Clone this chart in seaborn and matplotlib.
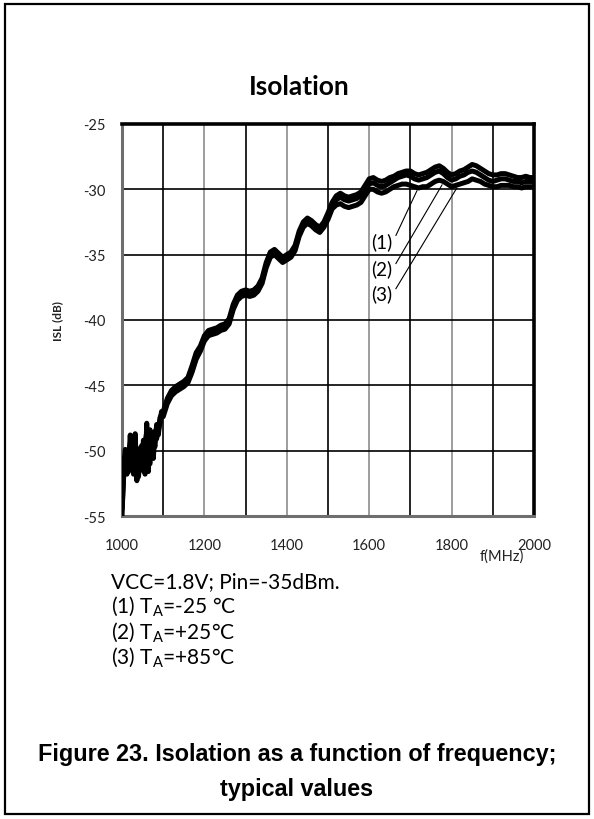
import numpy as np
import pandas as pd
import matplotlib
matplotlib.use('Agg')
import matplotlib.pyplot as plt
import seaborn as sns
from matplotlib.ticker import MultipleLocator
from matplotlib.patches import Rectangle

# frequency sweep (MHz): fine steps in the noisy start, then 10 MHz
freq = list(range(1000, 1100, 4)) + list(range(1100, 2001, 10))

# ISL (dB), one list per temperature
isl_m25 = [
    -55.0, -51.6, -50.4, -51.8, -51.0, -48.8, -51.2, -50.6, -48.7, -52.3,
    -51.2, -50.1, -51.5, -49.2, -51.8, -47.9, -50.7, -51.0, -48.6, -49.9,
    -49.0, -48.3, -48.8, -47.8, -47.3,
    -47.4, -46.4, -45.8, -45.5, -45.3, -45.1, -44.8, -44.0, -43.0, -42.4,
    -41.6, -41.2, -41.1, -41.0, -40.8, -40.7, -40.3, -39.2, -38.5, -38.2,
    -38.1, -38.2, -38.1, -37.8, -37.2, -36.0, -35.2, -35.0, -35.3, -35.6,
    -35.4, -35.2, -34.7, -33.6, -32.9, -32.6, -32.8, -33.1, -33.3, -32.9,
    -32.3, -31.5, -31.2, -31.1, -31.3, -31.4, -31.3, -31.2, -31.0, -30.5,
    -30.0, -30.0, -30.2, -30.3, -30.2, -30.0, -29.8, -29.7, -29.6, -29.6,
    -29.7, -29.8, -29.9, -29.8, -29.8, -29.6, -29.4, -29.3, -29.4, -29.6,
    -29.8, -29.7, -29.6, -29.5, -29.4, -29.2, -29.3, -29.4, -29.6, -29.7,
    -29.8, -29.8, -29.7, -29.7, -29.7, -29.8, -29.8, -29.9, -29.8, -29.8,
    -29.8,
]
isl_p25 = [
    -54.5, -52.0, -51.0, -50.3, -51.6, -49.5, -50.8, -51.4, -49.6, -51.9,
    -50.6, -49.8, -50.9, -51.5, -49.4, -48.6, -51.3, -49.8, -49.2, -50.6,
    -48.5, -49.1, -48.2, -47.9, -47.0,
    -47.2, -46.2, -45.6, -45.3, -45.1, -44.9, -44.6, -43.8, -42.8, -42.2,
    -41.4, -41.0, -40.9, -40.8, -40.6, -40.5, -40.1, -39.0, -38.3, -38.0,
    -37.9, -38.0, -37.9, -37.6, -37.0, -35.8, -35.0, -34.8, -35.1, -35.4,
    -35.2, -35.0, -34.5, -33.4, -32.7, -32.4, -32.6, -32.9, -33.1, -32.7,
    -32.0, -31.2, -30.8, -30.6, -30.8, -30.9, -30.8, -30.7, -30.5, -30.0,
    -29.6, -29.5, -29.7, -29.8, -29.7, -29.5, -29.3, -29.1, -29.0, -28.9,
    -29.0, -29.2, -29.3, -29.2, -29.1, -28.9, -28.7, -28.6, -28.8, -29.1,
    -29.3, -29.2, -29.0, -28.9, -28.7, -28.6, -28.7, -28.9, -29.1, -29.3,
    -29.4, -29.3, -29.2, -29.2, -29.3, -29.4, -29.4, -29.5, -29.4, -29.4,
    -29.4,
]
isl_p85 = [
    -54.0, -51.2, -49.9, -51.3, -50.2, -50.9, -48.9, -51.8, -51.0, -50.2,
    -52.0, -50.4, -49.6, -50.8, -50.1, -49.0, -51.6, -48.4, -50.3, -49.3,
    -49.7, -48.0, -48.6, -47.5, -47.2,
    -47.0, -46.0, -45.4, -45.1, -44.9, -44.7, -44.4, -43.5, -42.5, -42.0,
    -41.2, -40.8, -40.7, -40.6, -40.4, -40.3, -39.9, -38.8, -38.1, -37.8,
    -37.7, -37.8, -37.7, -37.4, -36.8, -35.6, -34.8, -34.6, -34.9, -35.2,
    -35.0, -34.8, -34.3, -33.2, -32.5, -32.2, -32.4, -32.7, -32.9, -32.5,
    -31.8, -31.0, -30.5, -30.3, -30.5, -30.6, -30.5, -30.4, -30.2, -29.7,
    -29.2, -29.1, -29.3, -29.4, -29.3, -29.1, -29.0, -28.8, -28.7, -28.6,
    -28.6, -28.8, -28.9, -28.8, -28.7, -28.5, -28.3, -28.2, -28.4, -28.7,
    -28.9, -28.8, -28.6, -28.5, -28.3, -28.1, -28.2, -28.4, -28.6, -28.8,
    -28.9, -28.9, -28.8, -28.8, -28.9, -29.0, -29.1, -29.1, -29.0, -29.1,
    -29.1,
]

curve_names = ["(1)", "(2)", "(3)"]
x_ticks = [1000, 1200, 1400, 1600, 1800, 2000]
y_ticks = [-25, -30, -35, -40, -45, -50, -55]

# callout labels: (text x, text y, point x, point y)
callouts = {
    "(1)": (1631, -34.0, 1716, -30.1),
    "(2)": (1631, -36.05, 1777, -29.65),
    "(3)": (1631, -37.96, 1813, -29.88),
}

df = pd.concat([
    pd.DataFrame({"freq": freq, "isl": vals, "curve": name})
    for name, vals in zip(curve_names, [isl_m25, isl_p25, isl_p85])
])

sns.set_theme(style="white")
plt.rcParams['font.family'] = ['Lato', 'DejaVu Sans']
plt.rcParams['mathtext.fontset'] = 'custom'
plt.rcParams['mathtext.rm'] = 'Lato'
plt.rcParams['axes.unicode_minus'] = False

fig = plt.figure(figsize=(5.94, 8.2), dpi=100)
ax = fig.add_axes([0.2054, 0.3695, 0.6936, 0.4781])

sns.lineplot(data=df, x="freq", y="isl", hue="curve",
             palette=["black"] * 3, linewidth=3.6, legend=False,
             sort=False, ax=ax, zorder=5)

ax.set_xlim(1000, 2000)
ax.set_ylim(-55, -25)
ax.set_xticks(x_ticks)
ax.set_yticks(y_ticks)
ax.xaxis.set_minor_locator(MultipleLocator(100))

# gridlines: gray at labelled freqs, black in between, black horizontals
ax.grid(True, which='major', axis='x', color='#8c8c8c', lw=1.2)
ax.grid(True, which='minor', axis='x', color='black', lw=1.2)
ax.grid(True, which='major', axis='y', color='black', lw=1.2)
ax.set_axisbelow(True)

ax.tick_params(axis='both', which='both', length=0, labelsize=10.5,
               labelcolor='#222222')
ax.tick_params(axis='x', pad=16)
ax.tick_params(axis='y', pad=12)

for side in ['top', 'right']:
    ax.spines[side].set_color('black')
    ax.spines[side].set_linewidth(2.6)
for side in ['left', 'bottom']:
    ax.spines[side].set_color('#6e6e6e')
    ax.spines[side].set_linewidth(2.2)

ax.set_xlabel("f(MHz)", fontsize=10.5, color='#222222')
ax.xaxis.set_label_coords(0.922, -0.102)
ax.xaxis.label.set_va('center')
ax.set_ylabel("ISL (dB)", fontsize=8.5, fontweight='bold', color='#222222')
ax.yaxis.set_label_coords(-0.143, 0.5)

for name, (tx, ty, px, py) in callouts.items():
    ax.annotate(name, xy=(px, py), xytext=(tx, ty), ha='center', va='center',
                fontsize=13.5, color='black', zorder=6,
                arrowprops=dict(arrowstyle='-', color='black', lw=0.8,
                                shrinkA=0, shrinkB=0, relpos=(1.0, 0.45)))

fig.text(299 / 594, 1 - 87 / 820, "Isolation", ha='center', va='center',
         fontsize=19, fontweight='bold', color='black')

notes = [
    "VCC=1.8V; Pin=-35dBm.",
    r"(1) T$_{\mathregular{A}}$=-25 °C",
    r"(2) T$_{\mathregular{A}}$=+25°C",
    r"(3) T$_{\mathregular{A}}$=+85°C",
]
for i, line in enumerate(notes):
    fig.text(111 / 594, 1 - (582 + 25.3 * i) / 820, line, ha='left',
             va='center', fontsize=15, color='black')

fig.text(0.5, 1 - 755 / 820, "Figure 23. Isolation as a function of frequency;",
         ha='center', va='center', fontsize=16.8, fontweight='bold',
         family='Liberation Sans', color='black')
fig.text(0.5, 1 - 790 / 820, "typical values", ha='center', va='center',
         fontsize=16.8, fontweight='bold', family='Liberation Sans',
         color='black')

fig.patches.append(Rectangle((5 / 594, 5 / 820), 584 / 594, 810 / 820,
                             transform=fig.transFigure, fill=False,
                             edgecolor='black', lw=1.6))

fig.savefig("out.png", dpi=100)
